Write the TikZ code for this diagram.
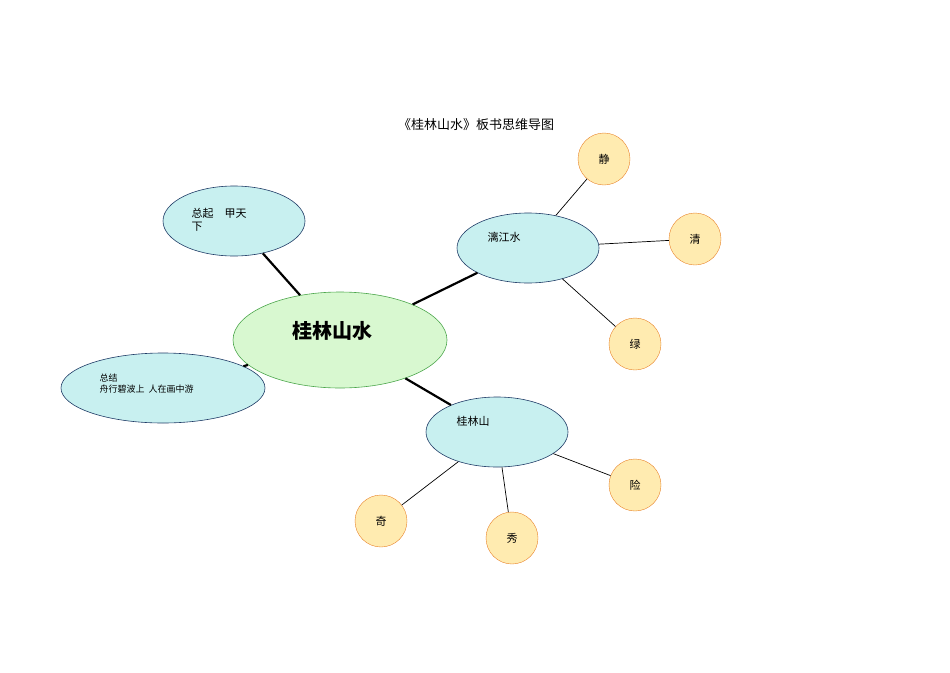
\documentclass[tikz,border=0pt]{standalone}
\usepackage{fontspec}
\setmainfont{Noto Sans CJK SC}
\usetikzlibrary{shapes.geometric}
\definecolor{cyanf}{HTML}{C8F0F0}
\definecolor{greenf}{HTML}{D8F8D0}
\definecolor{circf}{HTML}{FFEBB0}
\definecolor{circd}{HTML}{E8822A}
\definecolor{blued}{HTML}{1F3B66}
\tikzset{
 ell/.style={ellipse,draw=blued,fill=cyanf,inner sep=0,line width=0.6pt},
 circ/.style={circle,draw=circd,fill=circf,minimum size=52pt,inner sep=0,font=\fontsize{11}{12}\selectfont},
 thick line/.style={line width=2.2pt},
 thin line/.style={line width=0.7pt},
 lbl/.style={font=\fontsize{11}{13}\selectfont,anchor=west,align=left}
}
\begin{document}
\begin{tikzpicture}[x=1pt,y=-1pt]
\useasboundingbox (0,0) rectangle (950,672);
\node at (476,125) {\fontsize{13}{15}\selectfont 《桂林山水》板书思维导图};
\node[ellipse,draw=green!50!black!70,fill=greenf,minimum width=214pt,minimum height=96pt,inner sep=0,line width=0.6pt] (c) at (340,340) {};
\node at (332,331) {\fontsize{20}{22}\selectfont\bfseries 桂林山水};
\node[ell,minimum width=142pt,minimum height=70pt] (tl) at (234,221) {};
\node[lbl] at (188,220) {总起\quad 甲天\\下};
\node[ell,minimum width=204pt,minimum height=70pt] (l) at (163,388) {};
\node[lbl,font=\fontsize{9}{11}\selectfont] at (96,384) {总结\\舟行碧波上\ \ 人在画中游};
\node[ell,minimum width=142pt,minimum height=70pt] (lj) at (528,248) {};
\node[lbl] at (484,237) {漓江水};
\node[ell,minimum width=142pt,minimum height=70pt] (gs) at (497,432) {};
\node[lbl] at (453,421) {桂林山};
\node[circ] (j) at (604,159) {静};
\node[circ] (q) at (695,239) {清};
\node[circ] (lv) at (635,344) {绿};
\node[circ] (x) at (635,485) {险};
\node[circ] (xiu) at (512,538) {秀};
\node[circ] (qi) at (381,521) {奇};
\draw[thick line] (c) -- (tl);
\draw[thick line] (c) -- (l);
\draw[thick line] (c) -- (lj);
\draw[thick line] (c) -- (gs);
\draw[thin line] (lj) -- (j);
\draw[thin line] (lj) -- (q);
\draw[thin line] (lj) -- (lv);
\draw[thin line] (gs) -- (x);
\draw[thin line] (gs) -- (xiu);
\draw[thin line] (gs) -- (qi);
\end{tikzpicture}
\end{document}
